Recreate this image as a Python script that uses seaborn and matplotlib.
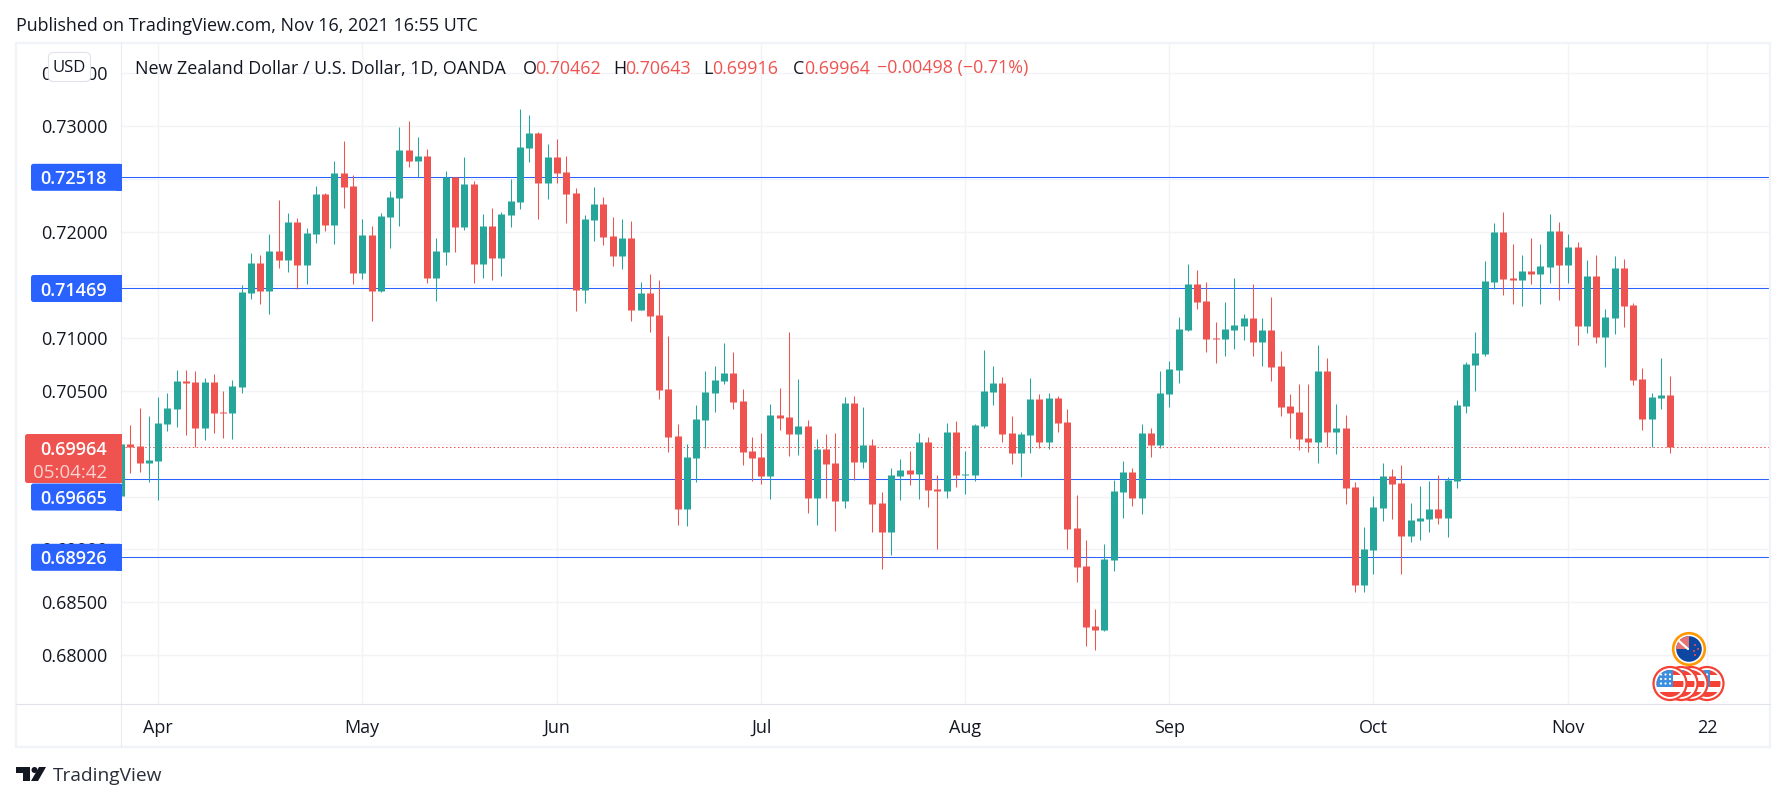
import numpy as np
import pandas as pd
import seaborn as sns
import matplotlib.pyplot as plt
from matplotlib.patches import Circle, Rectangle, FancyBboxPatch, Polygon
from matplotlib.lines import Line2D

W, H = 1786, 802
TEAL = '#26a69a'
RED = '#ef5350'
BLUE = '#2962ff'
INK = '#131722'
GRID = '#f2f3f6'
FRAME = '#f0f3fa'

opens = [.69508,.69997,.69978,.69820,.69839,.70186,.70328,.70592,.70583,.70148,
	.70583,.70299,.70290,.70536,.71424,.71708,.71443,.71821,.71736,.72096,
	.71689,.71982,.72360,.72067,.72559,.72436,.71613,.71973,.71443,.72143,
	.72323,.72776,.72672,.72720,.71566,.71812,.72518,.72048,.72455,.71699,
	.72058,.71755,.72162,.72285,.72795,.72937,.72464,.72710,.72568,.72370,
	.71453,.72115,.72266,.71963,.71774,.71944,.71264,.71424,.71216,.70517,
	.70072,.69382,.69864,.70224,.70479,.70592,.70668,.70403,.69931,.69874,
	.69694,.70271,.70252,.70091,.70167,.69486,.69950,.69817,.69458,.70384,
	.69827,.69987,.69439,.69165,.69694,.69751,.69713,.70016,.69571,.69553,
	.70110,.69704,.69704,.70167,.70488,.70574,.70101,.69912,.70082,.70422,
	.70016,.70432,.70205,.69203,.68843,.68276,.68238,.68900,.69543,.69732,
	.69486,.70101,.69987,.70470,.70696,.71075,.71509,.71349,.70999,.70989,
	.71075,.71112,.71188,.70961,.71075,.70734,.70356,.70299,.70054,.70016,
	.70687,.70110,.70148,.69590,.68664,.68995,.69392,.69694,.69628,.69127,
	.69269,.69288,.69382,.69297,.69647,.70356,.70744,.70848,.71528,.72001,
	.71566,.71547,.71632,.71604,.71670,.72011,.71689,.71859,.71112,.71585,
	.71008,.71188,.71661,.71311,.70611,.70233,.70432,.70462]
highs = [.69997,.70176,.70337,.70262,.70441,.70479,.70696,.70696,.70687,.70621,
	.70659,.70498,.70602,.71500,.71803,.71784,.71982,.72304,.72181,.72133,
	.72039,.72436,.72370,.72672,.72861,.72540,.72124,.72058,.72181,.72389,
	.72994,.73050,.72899,.72786,.71944,.72578,.72521,.72710,.72483,.72171,
	.72228,.72190,.72502,.73164,.73107,.72946,.72833,.72880,.72720,.72417,
	.72162,.72427,.72332,.72143,.72124,.72105,.71528,.71604,.71547,.71018,
	.70186,.69997,.70366,.70687,.70734,.70952,.70867,.70517,.70063,.70101,
	.70375,.70526,.71056,.70611,.70224,.70044,.70091,.70101,.70441,.70451,
	.70347,.70044,.69543,.69770,.69855,.69931,.70101,.70063,.69704,.70195,
	.70214,.69931,.70186,.70886,.70734,.70630,.70262,.70110,.70621,.70470,
	.70479,.70451,.70328,.69515,.69089,.68437,.69051,.69656,.69836,.69770,
	.70186,.70148,.70687,.70782,.71198,.71699,.71642,.71528,.71150,.71339,
	.71566,.71226,.71509,.71188,.71387,.70876,.70470,.70564,.70564,.70933,
	.70810,.70375,.70271,.69638,.69212,.69505,.69817,.69760,.69798,.69439,
	.69600,.69647,.69704,.69685,.70413,.70772,.71056,.71727,.72086,.72190,
	.71888,.71784,.71944,.71888,.72171,.72096,.71982,.71907,.71736,.71784,
	.71273,.71774,.71746,.71330,.70715,.70479,.70810,.70643]
lows = [.69508,.69726,.69735,.69641,.69467,.70120,.70158,.70082,.69969,.70035,
	.70101,.70054,.70044,.70479,.71368,.71320,.71226,.71661,.71623,.71462,
	.71509,.71897,.72011,.71888,.72228,.71509,.71557,.71160,.71434,.71850,
	.72058,.72616,.72518,.71519,.71349,.71689,.71812,.72020,.71519,.71566,
	.71547,.71585,.72048,.72219,.72663,.72124,.72313,.72464,.72086,.71254,
	.71330,.71916,.71878,.71680,.71651,.71160,.71264,.71056,.70422,.69921,
	.69231,.69222,.69638,.69959,.70299,.70564,.70328,.69798,.69647,.69619,
	.69477,.70129,.69883,.69893,.69345,.69231,.69486,.69174,.69392,.69656,
	.69770,.69165,.68815,.68947,.69467,.69609,.69477,.69401,.69004,.69486,
	.69590,.69524,.69647,.70148,.70366,.70016,.69808,.69685,.69912,.69959,
	.69950,.70110,.69004,.68692,.68087,.68049,.68229,.68796,.69297,.69411,
	.69335,.69874,.69959,.70347,.70574,.71065,.71273,.70867,.70763,.70829,
	.70895,.70980,.70829,.70734,.70592,.70262,.70054,.69940,.69921,.69817,
	.69969,.69902,.69430,.68598,.68598,.68768,.69269,.69288,.68768,.69070,
	.69089,.69165,.69241,.69118,.69581,.70290,.70498,.70829,.71462,.71405,
	.71320,.71302,.71509,.71320,.71519,.71358,.71519,.70933,.71046,.70952,
	.70725,.71037,.71103,.70555,.70129,.69969,.70328,.69916]
closes = [.69997,.69969,.69817,.69846,.70195,.70337,.70592,.70574,.70148,.70583,
	.70290,.70290,.70545,.71434,.71708,.71443,.71821,.71736,.72096,.71689,
	.71992,.72360,.72067,.72559,.72427,.71613,.71973,.71443,.72152,.72332,
	.72776,.72672,.72720,.71566,.71821,.72518,.72048,.72455,.71699,.72058,
	.71755,.72171,.72294,.72805,.72937,.72464,.72710,.72559,.72360,.71453,
	.72124,.72266,.71954,.71774,.71944,.71264,.71424,.71207,.70507,.70063,
	.69382,.69874,.70233,.70488,.70602,.70668,.70394,.69921,.69864,.69694,
	.70271,.70243,.70091,.70167,.69486,.69950,.69808,.69458,.70384,.69827,
	.69987,.69430,.69165,.69704,.69751,.69713,.70016,.69562,.69553,.70110,
	.69704,.69713,.70176,.70498,.70574,.70091,.69912,.70091,.70422,.70016,
	.70432,.70195,.69193,.68834,.68267,.68238,.68910,.69553,.69732,.69486,
	.70101,.69987,.70479,.70706,.71084,.71509,.71339,.70989,.70989,.71084,
	.71122,.71188,.70961,.71075,.70725,.70347,.70290,.70044,.70016,.70687,
	.70110,.70148,.69581,.68664,.69004,.69401,.69694,.69619,.69127,.69278,
	.69297,.69382,.69297,.69656,.70366,.70753,.70857,.71538,.72001,.71557,
	.71547,.71632,.71604,.71680,.72011,.71689,.71859,.71112,.71585,.71008,
	.71198,.71661,.71302,.70602,.70233,.70441,.70460,.69964]

price_ticks = [.68, .685, .69, .695, .70, .705, .71, .715, .72, .725, .73, .735]
month_pos = [3, 25, 46, 68, 90, 112, 134, 155, 170]
month_labels = ['Apr', 'May', 'Jun', 'Jul', 'Aug', 'Sep', 'Oct', 'Nov', '22']
levels = [.72518, .71469, .69665, .68926]
level_labels = ['0.72518', '0.71469', '0.69665', '0.68926']
level_label_y = [177.3, 288.5, 497, 557.3]
last_price = .69964

sns.set_style("white")
plt.rcParams['font.family'] = ['Open Sans', 'DejaVu Sans']

candle = np.arange(-1, 167)
df = pd.DataFrame({'candle': candle, 'open': opens, 'high': highs, 'low': lows, 'close': closes})
df['side'] = np.where(df['close'] >= df['open'], 'up', 'down')
wicks = df.melt(id_vars=['candle', 'side'], value_vars=['high', 'low'], value_name='price')
bodies = df.melt(id_vars=['candle', 'side'], value_vars=['open', 'close'], value_name='price')
colors = {'up': TEAL, 'down': RED}

fig = plt.figure(figsize=(W / 100, H / 100), dpi=100, facecolor='white')
ax = fig.add_axes([121.5 / W, 1 - 704 / H, (1769 - 121.5) / W, (704 - 43) / H])

px_per_price = 10577.7
ax.set_xlim(-0.949, 176.64)
ax.set_ylim(.73 - (704 - 126.3) / px_per_price, .73 + (126.3 - 43) / px_per_price)

ax.set_axisbelow(True)
ax.grid(True, color=GRID, lw=1.0)
for lev in levels:
	ax.axhline(lev, color=BLUE, lw=0.75, zorder=1.5)
ax.axhline(last_price, color=RED, lw=0.75, dashes=(1.4, 2.4), zorder=1.5)

sns.lineplot(data=wicks, x='candle', y='price', units='candle', estimator=None, hue='side',
	palette=colors, lw=0.75, sort=False, legend=False, solid_capstyle='butt', zorder=3, ax=ax)
sns.lineplot(data=bodies, x='candle', y='price', units='candle', estimator=None, hue='side',
	palette=colors, lw=5.04, sort=False, legend=False, solid_capstyle='butt', zorder=4, ax=ax)

ax.set_xticks(month_pos, month_labels)
ax.set_yticks(price_ticks, ['%.5f' % p for p in price_ticks])
ax.tick_params(axis='x', length=0, pad=10.5, labelsize=13, labelcolor=INK)
ax.tick_params(axis='y', length=0, pad=10, labelsize=13, labelcolor=INK)
ax.set_xlabel('')
ax.set_ylabel('')
sns.despine(ax=ax, left=True, bottom=True, top=True, right=True)

def ptext(x, y, s, **kw):
	kw.setdefault('va', 'center')
	kw.setdefault('color', INK)
	kw.setdefault('fontsize', 13)
	return fig.text(x / W, 1 - (y + 2) / H, s, **kw)

def prect(x0, y0, x1, y1, color, z=5):
	# rounded on the left, square where it meets the chart
	fig.add_artist(FancyBboxPatch((x0, H - y1), x1 - x0, y1 - y0, boxstyle='round,pad=0,rounding_size=2.5',
		transform=None, facecolor=color, edgecolor='none', zorder=z))
	fig.add_artist(Rectangle((x1 - 6, H - y1), 6, y1 - y0, transform=None, facecolor=color, edgecolor='none', zorder=z))

def pline(x0, y0, x1, y1, color, lw=1.0):
	fig.add_artist(Line2D([x0 / W, x1 / W], [1 - y0 / H, 1 - y1 / H], color=color, lw=lw, zorder=4))

# frame round the chart
pline(16, 43, 1770, 43, FRAME, 1.6)
pline(16, 747, 1770, 747, FRAME, 1.6)
pline(16, 43, 16, 747, FRAME, 1.6)
pline(1770, 43, 1770, 747, FRAME, 1.6)
pline(121.5, 43, 121.5, 747, '#e9ecf2', 0.8)
pline(16, 704, 1770, 704, '#e0e3eb', 0.8)

# price labels on the axis
for lab, y in zip(level_labels, level_label_y):
	prect(31, y - 13.5, 122, y + 13.5, BLUE, z=5)
	ptext(107, y, lab, color='white', ha='right', fontweight='semibold', zorder=7)
prect(25, 434, 122, 483, RED, z=6)
ptext(107, 448, '%.5f' % last_price, color='white', ha='right', fontweight='semibold', zorder=7)
ptext(107, 470.5, '05:04:42', color='#fbd0d0', ha='right', fontsize=13.5, zorder=7)

# currency button
fig.add_artist(FancyBboxPatch((48.5, H - 81.5), 42, 29, boxstyle='round,pad=0,rounding_size=5',
	transform=None, facecolor='white', edgecolor='#e0e3eb', lw=0.8, zorder=6))
ptext(69.5, 65.5, 'USD', ha='center', fontsize=12, zorder=7)

# header and legend
ptext(16, 24, 'Published on TradingView.com, Nov 16, 2021 16:55 UTC', fontsize=12.9)
ptext(135, 66.5, 'New Zealand Dollar / U.S. Dollar, 1D, OANDA', fontsize=12.9)
for x, vx, s, v in [(523, 535, 'O', '0.70462'), (613, 625, 'H', '0.70643'), (703, 712, 'L', '0.69916'), (793, 804, 'C', '0.69964')]:
	ptext(x, 66.5, s, fontsize=12.9)
	ptext(vx, 66.5, v, color=RED, fontsize=12.9)
ptext(877, 66.5, '\u22120.00498 (\u22120.71%)', color=RED, fontsize=12.9)

# event icons, drawn in pixel coordinates
def pcircle(x, y, r, **kw):
	c = Circle((x, H - y), r, transform=None, **kw)
	fig.add_artist(c)
	return c

def us_flag(x, y, z):
	pcircle(x, y, 16.5, facecolor='white', edgecolor='#f44336', lw=1.6, zorder=z)
	clip = Circle((x, H - y), 13.5, transform=None)
	for y0, y1, col in [(-14, -9, '#f44336'), (-3, 3, '#f44336'), (8, 14, '#f44336'), (-14, 3, None)]:
		if col:
			r = Rectangle((x - 14, H - y - y1), 28, y1 - y0, transform=None, facecolor=col, edgecolor='none', zorder=z)
		else:
			r = Rectangle((x - 14, H - y - y1), 17, y1 - y0, transform=None, facecolor='#3b8ee0', edgecolor='none', zorder=z)
		fig.add_artist(r)
		r.set_clip_path(clip)
	for dx in (-9, -4.5, 0):
		for dy in (-9, -4.5, 0):
			pcircle(x + dx, y + dy, 1.1, facecolor='white', edgecolor='none', zorder=z)

for i, x in enumerate([1707, 1691, 1681, 1670]):
	us_flag(x, 683.5, 8 + i)

pcircle(1689, 649, 15.8, facecolor='white', edgecolor='#ff9800', lw=1.9, zorder=12)
pcircle(1689, 649, 12.8, facecolor='#0d47a1', edgecolor='none', zorder=12)
canton = Rectangle((1676, H - 649), 13, 13, transform=None, facecolor='#e57373', edgecolor='none', zorder=12)
fig.add_artist(canton)
canton.set_clip_path(Circle((1689, H - 649), 12.8, transform=None))
fig.add_artist(Line2D([1679, 1688], [H - 641, H - 649], transform=None, color='white', lw=1.6, zorder=12))
for dx, dy in [(6, -4), (9, 0), (5, 2), (6, 6)]:
	pcircle(1689 + dx, 649 + dy, 1.0, facecolor='#ef5350', edgecolor='none', zorder=13)

# logo
logo = [
	[(16, 767), (30, 767), (30, 781), (23, 781), (23, 773), (16, 773)],
	[(39, 767), (46, 767), (38, 781), (31, 781)],
]
for pts in logo:
	fig.add_artist(Polygon([(x / W, 1 - y / H) for x, y in pts], closed=True, transform=fig.transFigure,
		facecolor=INK, edgecolor='none'))
pcircle(34.5, 770, 3, facecolor=INK, edgecolor='none', zorder=5)
ptext(53, 774, 'TradingView', fontsize=13.8, color='#2a2e39')

fig.savefig('out.png', dpi=100, facecolor='white')
